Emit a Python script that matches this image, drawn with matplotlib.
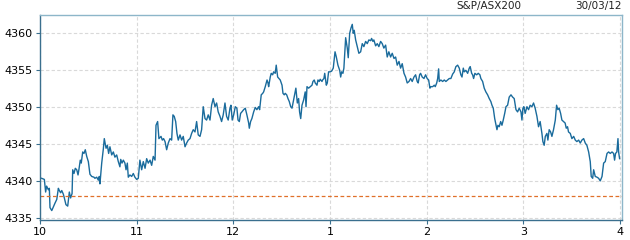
import matplotlib
matplotlib.use("Agg")
import matplotlib.pyplot as plt

# minutes since 10:00 and index values
minutes = [1.0, 2.7, 3.5, 4.1, 5.2, 5.8, 6.2, 7.3, 8.3, 9.3, 10.4, 11.4, 12.0, 12.8, 13.5, 14.5,
           15.1, 16.1, 17.2, 18.2, 19.0, 19.9, 20.3, 21.1, 21.9, 22.8, 23.6, 24.2, 25.0, 25.6, 26.5,
           27.3, 28.1, 29.0, 30.0, 31.0, 32.1, 33.5, 34.1, 35.2, 36.2, 36.8, 37.2, 38.3, 39.3, 39.9,
           41.0, 41.8, 42.6, 43.4, 44.5, 45.5, 46.5, 47.6, 48.6, 49.6, 50.1, 50.9, 51.7, 52.7, 53.4,
           54.2, 54.8, 55.8, 56.9, 57.9, 58.9, 60.0,
           61.0, 62.0, 63.1, 64.1, 65.2, 66.2, 67.2, 68.3, 69.3, 70.3, 71.4, 72.0, 73.0, 73.8, 75.1,
           75.9, 76.7, 77.6, 78.6, 79.6, 80.7, 81.7, 82.5, 83.3, 84.2, 85.0, 85.8, 86.9, 87.9, 88.9,
           90.0, 91.0, 92.0, 93.1, 94.1, 95.1, 96.2, 97.2, 98.2, 99.3, 100.3, 101.3, 102.4, 103.4,
           104.4, 105.5, 106.5, 107.5, 108.6, 109.6, 110.6, 111.7, 112.7, 113.7, 114.8, 115.8, 116.8,
           117.9, 118.5, 119.3,
           120.2, 121.2, 122.2, 122.9, 123.7, 124.5, 125.3, 126.4, 127.4, 128.4, 129.5, 129.9, 130.7,
           131.5, 132.6, 133.6, 134.6, 135.7, 136.3, 137.3, 138.2, 138.8, 139.8, 140.9, 141.5, 141.9,
           142.9, 143.5, 144.4, 145.0, 146.0, 146.6, 147.5, 148.3, 149.1, 150.2, 150.8, 151.6, 152.2,
           153.1, 153.9, 154.7, 155.6, 156.4, 157.2, 158.0, 158.8, 159.7, 160.5, 161.1, 161.8, 162.6,
           163.6, 164.6, 165.1, 165.7, 166.7, 167.7, 168.8, 169.4, 170.2, 170.8, 171.9, 172.5, 173.3,
           173.9, 175.0, 175.4, 176.2, 176.7, 177.7, 178.3, 179.1, 180.1,
           181.0, 182.0, 183.1, 183.9, 184.9, 186.0, 186.6, 187.2, 188.0, 188.6, 189.7, 190.7, 191.3,
           192.2, 193.0, 193.8, 194.4, 195.0, 195.9, 196.9, 197.9, 199.0, 200.0, 201.0, 202.1, 203.1,
           204.1, 205.2, 205.8, 206.6, 207.2, 208.3, 209.3, 210.3, 211.4, 212.4, 213.4, 214.5, 215.5,
           216.5, 217.6, 218.6, 219.7, 220.7, 221.7, 222.8, 223.8, 224.8, 225.9, 226.9, 227.9, 229.0,
           230.0, 231.0, 232.1, 233.1, 234.1, 234.7, 235.6, 236.2, 237.2, 238.3, 239.3, 240.3,
           241.2, 242.0, 242.6, 243.7, 244.7, 245.3, 246.2, 246.8, 247.4, 247.8, 248.8, 249.9, 250.9,
           251.9, 253.0, 254.0, 255.0, 256.1, 257.1, 258.1, 259.2, 260.2, 261.2, 261.9, 262.7, 263.3,
           264.3, 265.4, 266.4, 267.0, 267.9, 268.5, 269.1, 269.9, 271.0, 272.0, 273.0, 273.6, 274.7,
           275.7, 276.7, 277.8, 278.8, 279.8, 280.5, 281.3, 282.2, 283.0, 283.6, 284.2, 285.0, 285.9,
           286.7, 287.5, 288.4, 289.2, 290.2, 291.2, 292.3, 293.3, 294.3, 295.4, 296.4, 297.4, 298.5,
           299.1, 299.7, 300.3, 301.1, 302.2, 303.2, 304.2, 305.3, 306.3, 307.3, 308.4, 309.4, 310.4,
           311.5, 312.1, 312.9, 313.6, 314.6, 315.2, 316.0, 316.9, 317.7, 318.7, 319.8, 320.6, 321.4,
           322.2, 323.1, 323.9, 324.9, 325.9, 326.6, 327.4, 328.0, 329.1, 330.1, 331.2, 332.2, 333.2,
           334.3, 335.3, 336.3, 337.4, 338.4, 339.4, 340.5, 341.5, 342.1, 343.0, 343.6, 344.6, 345.7,
           346.7, 347.7, 348.8, 349.8, 350.8, 351.9, 352.9, 353.9, 355.0, 356.0, 356.6, 357.2, 358.0,
           358.7, 359.1, 359.7]

values = [4340.35, 4340.2, 4338.5, 4339.3, 4338.8, 4339.0, 4336.4, 4336.0, 4336.5, 4337.0, 4337.5,
          4339.0, 4338.7, 4338.4, 4338.7, 4338.2, 4337.7, 4336.8, 4336.6, 4338.5, 4337.7, 4338.3,
          4341.5, 4341.0, 4341.7, 4341.5, 4340.8, 4341.6, 4342.8, 4342.4, 4343.9, 4343.7, 4344.2,
          4343.3, 4342.6, 4340.9, 4340.6, 4340.5, 4340.35, 4340.5, 4340.1, 4340.6, 4339.6, 4342.4,
          4344.3, 4345.7, 4344.4, 4344.8, 4343.7, 4344.6, 4343.5, 4343.9, 4343.2, 4343.5, 4342.6,
          4341.9, 4342.9, 4342.4, 4342.8, 4342.4, 4341.5, 4342.4, 4340.5, 4340.8, 4340.6, 4341.0,
          4340.5, 4340.2,
          4340.35, 4342.8, 4341.5, 4342.6, 4341.7, 4343.0, 4342.4, 4342.8, 4342.1, 4343.3, 4342.8,
          4347.5, 4348.0, 4345.7, 4346.0, 4345.5, 4345.7, 4345.3, 4344.2, 4345.1, 4345.7, 4345.5,
          4348.9, 4348.7, 4348.0, 4346.4, 4345.5, 4346.2, 4345.5, 4346.0, 4344.6, 4345.1, 4345.5,
          4345.7, 4346.4, 4346.9, 4346.6, 4348.0, 4346.2, 4346.0, 4346.9, 4350.0, 4348.4, 4348.2,
          4348.9, 4348.2, 4350.2, 4351.1, 4350.0, 4350.5, 4349.3, 4348.7, 4348.0, 4348.9, 4350.5,
          4348.7, 4348.2, 4349.8, 4350.2, 4348.2,
          4348.9, 4350.0, 4349.8, 4348.2, 4348.0, 4349.1, 4349.3, 4349.6, 4349.8, 4348.9, 4347.8,
          4347.1, 4348.0, 4348.4, 4349.3, 4349.9, 4349.6, 4350.0, 4349.6, 4351.6, 4351.8, 4352.0,
          4352.7, 4353.6, 4353.2, 4352.7, 4354.0, 4354.5, 4354.3, 4354.7, 4354.5, 4355.6, 4354.0,
          4353.8, 4353.6, 4352.9, 4351.8, 4351.6, 4351.8, 4351.6, 4351.1, 4350.7, 4350.0, 4349.8,
          4350.7, 4351.6, 4352.5, 4350.5, 4351.1, 4349.3, 4348.4, 4350.2, 4350.9, 4352.0, 4350.0,
          4352.7, 4352.5, 4352.7, 4352.9, 4353.4, 4353.6, 4353.2, 4352.9, 4353.6, 4353.4, 4353.7,
          4353.4, 4353.6, 4353.8, 4354.5, 4352.9, 4353.2, 4354.7, 4354.7,
          4354.8, 4355.2, 4357.4, 4356.7, 4355.6, 4354.9, 4354.0, 4354.7, 4354.5, 4355.2, 4359.3,
          4357.9, 4356.6, 4359.9, 4360.6, 4361.1, 4359.9, 4360.3, 4359.0, 4358.1, 4357.2, 4357.4,
          4358.5, 4358.1, 4358.8, 4358.5, 4359.0, 4358.9, 4359.2, 4358.8, 4359.0, 4358.2, 4358.5,
          4358.1, 4358.8, 4358.5, 4357.9, 4358.3, 4356.7, 4357.4, 4356.7, 4357.2, 4356.5, 4356.7,
          4355.6, 4356.1, 4355.2, 4355.8, 4354.5, 4354.0, 4353.2, 4353.4, 4353.8, 4353.4, 4354.0,
          4354.3, 4353.4, 4353.2, 4354.3, 4354.5, 4354.0, 4353.8, 4354.3, 4353.8,
          4353.6, 4352.5, 4352.7, 4352.7, 4352.9, 4352.7, 4353.2, 4353.8, 4355.1, 4353.4, 4353.6,
          4353.4, 4353.6, 4353.4, 4353.6, 4353.8, 4353.8, 4354.4, 4354.7, 4355.4, 4355.6, 4355.2,
          4354.3, 4354.0, 4355.2, 4354.7, 4354.9, 4354.5, 4355.2, 4355.4, 4354.5, 4354.3, 4353.8,
          4354.5, 4354.3, 4354.5, 4354.3, 4353.8, 4353.4, 4352.5, 4352.0, 4351.6, 4351.1, 4350.7,
          4350.2, 4349.8, 4348.4, 4347.5, 4346.9, 4347.5, 4347.3, 4348.0, 4347.5, 4348.2, 4349.1,
          4350.0, 4350.2, 4351.3, 4351.6, 4351.3, 4351.1, 4349.6, 4349.3, 4349.8, 4349.3,
          4348.2, 4349.8, 4350.0, 4349.1, 4350.0, 4349.6, 4350.2, 4350.0, 4350.5, 4349.8, 4348.7,
          4347.3, 4348.0, 4346.4, 4345.3, 4344.8, 4346.0, 4346.4, 4345.5, 4346.9, 4346.6, 4346.0,
          4346.9, 4348.2, 4350.2, 4349.6, 4349.8, 4349.1, 4348.2, 4348.0, 4347.8, 4347.1, 4347.3,
          4346.6, 4346.4, 4345.7, 4346.0, 4345.5, 4345.3, 4345.5, 4345.1, 4345.5, 4345.7, 4345.1,
          4344.8, 4343.9, 4342.6, 4340.6, 4340.35, 4341.5, 4340.6, 4340.5, 4340.35, 4340.0, 4340.6,
          4342.4, 4342.6, 4343.7, 4343.9, 4343.7, 4343.9, 4343.7, 4342.8, 4343.7, 4343.9, 4345.7,
          4343.9, 4343.0]

prev_close = 4337.9
x_ticks = [0, 60, 120, 180, 240, 300, 360]
x_labels = ["10", "11", "12", "1", "2", "3", "4"]
y_ticks = [4335, 4340, 4345, 4350, 4355, 4360]
title_left = "S&P/ASX200"
title_right = "30/03/12"

fig = plt.figure(figsize=(6.3, 2.4), dpi=100)
ax = fig.add_axes([40 / 630, 20 / 240, 582 / 630, 205 / 240])

ax.plot(minutes, values, color="#1a6b9c", linewidth=1.0)
ax.axhline(prev_close, color="#e0702a", linewidth=0.9, linestyle=(0, (3, 2)))

ax.set_xlim(0, 361.2)
ax.set_ylim(4334.73, 4362.36)
ax.set_xticks(x_ticks)
ax.set_xticklabels(x_labels)
ax.set_yticks(y_ticks)
ax.grid(True, color="#d9d9d9", linestyle=(0, (3, 2)), linewidth=0.8)
ax.set_axisbelow(True)

for side in ("left", "bottom"):
    ax.spines[side].set_color("#3a6f8e")
    ax.spines[side].set_linewidth(1.0)
for side in ("top", "right"):
    ax.spines[side].set_color("#8db6c9")
    ax.spines[side].set_linewidth(1.0)

ax.tick_params(axis="both", labelsize=8, length=3, width=0.8, color="#3a6f8e", pad=2)

fig.text(489 / 630, 1 - 6 / 240, title_left, ha="center", va="center", fontsize=7.5, color="#222222")
fig.text(622 / 630, 1 - 6 / 240, title_right, ha="right", va="center", fontsize=7.5, color="#222222")

fig.savefig("out.png", dpi=100)
